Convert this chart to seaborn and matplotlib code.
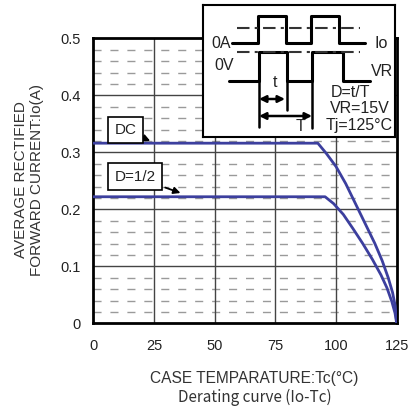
import matplotlib
matplotlib.use('Agg')
import matplotlib.pyplot as plt
import pandas as pd
import seaborn as sns

# derating curves (Tc in degC, Io in A)
dc_tc = [0, 92.5, 96, 100, 104, 108, 112, 116, 119, 121.5, 123.3, 124.4, 125]
dc_io = [0.316, 0.316, 0.298, 0.275, 0.245, 0.210, 0.175, 0.140, 0.110, 0.080, 0.054, 0.030, 0.0]
half_tc = [0, 95.5, 99, 103, 107, 111, 115, 118.5, 121, 123, 124.3, 125]
half_io = [0.222, 0.222, 0.210, 0.191, 0.166, 0.140, 0.112, 0.085, 0.062, 0.038, 0.018, 0.0]

x_ticks = [0, 25, 50, 75, 100, 125]
y_ticks = [0, 0.1, 0.2, 0.3, 0.4, 0.5]
y_minor = [0.02, 0.04, 0.06, 0.08, 0.12, 0.14, 0.16, 0.18, 0.22, 0.24, 0.26, 0.28,
           0.32, 0.34, 0.36, 0.38, 0.42, 0.44, 0.46, 0.48]

# inset waveform sketch (drawn in pixel-like coords of the inset box)
io_x = [232, 258, 258, 286, 286, 311, 311, 339, 339, 365]
io_y = [43, 43, 16, 16, 43, 43, 16, 16, 43, 43]
vr_x = [229, 259, 259, 287, 287, 312, 312, 343, 343, 370]
vr_y = [81, 81, 52, 52, 81, 81, 52, 52, 81, 81]

df = pd.concat([
    pd.DataFrame({'Tc': dc_tc, 'Io': dc_io, 'curve': 'DC'}),
    pd.DataFrame({'Tc': half_tc, 'Io': half_io, 'curve': 'D=1/2'}),
])

sns.set_style('white')
plt.rcParams['font.family'] = ['Liberation Sans', 'DejaVu Sans']

fig = plt.figure(figsize=(4.09, 4.08), dpi=100)
ax = fig.add_axes([93.3 / 409, 1 - 323.3 / 408, 303.4 / 409, 285 / 408])

for y in y_minor:
    ax.axhline(y, color='#9a9a9a', lw=1.0, ls=(0, (5.8, 6.4)), zorder=1)
for y in y_ticks[1:-1]:
    ax.axhline(y, color='#444444', lw=1.0, zorder=1.5)
for x in x_ticks[1:-1]:
    ax.axvline(x, color='#444444', lw=1.0, zorder=1.5)

sns.lineplot(data=df, x='Tc', y='Io', hue='curve', palette=['#3c3f9e', '#3c3f9e'],
             linewidth=2, legend=False, sort=False, estimator=None, ax=ax, zorder=3)

ax.set_xlim(0, 125)
ax.set_ylim(0, 0.5)
ax.set_xticks(x_ticks)
ax.set_yticks(y_ticks)
ax.set_xticklabels([str(v) for v in x_ticks])
ax.set_yticklabels(['0', '0.1', '0.2', '0.3', '0.4', '0.5'])
ax.tick_params(length=0, labelsize=10.5, labelcolor='#222222')
ax.tick_params(axis='x', pad=11)
ax.tick_params(axis='y', pad=9)
for s in ax.spines.values():
    s.set_visible(True)
    s.set_color('black')
    s.set_linewidth(2)
ax.set_xlabel('')
ax.set_ylabel('')

# curve labels
box = dict(boxstyle='square,pad=0.42', fc='white', ec='black', lw=1.2)
arrow = dict(arrowstyle='-|>', color='black', lw=1.3, mutation_scale=10)
ax.annotate('DC', xy=(24.5, 0.318), xytext=(13.2, 0.339), ha='center', va='center',
            fontsize=11, color='#222222', bbox=box, arrowprops=arrow, zorder=4)
ax.annotate('D=1/2', xy=(37, 0.227), xytext=(17.2, 0.257), ha='center', va='center',
            fontsize=11, color='#222222', bbox=box, arrowprops=arrow, zorder=4)

fig.text(29 / 409, 1 - 180 / 408, 'AVERAGE RECTIFIED\nFORWARD CURRENT:Io(A)', rotation=90,
         ha='center', va='center', fontsize=11, color='#333333', linespacing=1.15)
fig.text(254 / 409, 1 - 378 / 408, 'CASE TEMPARATURE:Tc(\u00b0C)', ha='center', va='center',
         fontsize=11.2, color='#333333')
fig.text(255 / 409, 1 - 397 / 408, 'Derating curve (Io-Tc)', ha='center', va='center',
         fontsize=11, color='#333333', family=['Noto Sans CJK JP', 'DejaVu Sans'])

# inset with waveform definition
ins = fig.add_axes([203 / 409, 1 - 137 / 408, 192 / 409, 132 / 408])
ins.set_xlim(203, 395)
ins.set_ylim(137, 5)
ins.set_xticks([])
ins.set_yticks([])
ins.set_facecolor('white')
for s in ins.spines.values():
    s.set_color('black')
    s.set_linewidth(1.5)
ins.plot(io_x, io_y, color='black', lw=2.2)
ins.plot(vr_x, vr_y, color='black', lw=2.2)
ins.plot([237, 360], [28, 28], color='#333333', lw=1.5, ls=(0, (6, 2.5, 1.5, 2.5)))
ins.plot([237, 360], [52.5, 52.5], color='#333333', lw=1.5, ls=(0, (6, 2.5, 1.5, 2.5)))
ins.plot([259, 259], [52, 127], color='black', lw=1.8)
ins.plot([287, 287], [81, 110], color='black', lw=1.8)
ins.plot([312, 312], [81, 128], color='black', lw=1.8)
ins.annotate('', xy=(259, 99), xytext=(285, 99),
             arrowprops=dict(arrowstyle='<|-|>', color='black', lw=1.8, mutation_scale=10, shrinkA=0, shrinkB=0))
ins.annotate('', xy=(259, 116), xytext=(312, 116),
             arrowprops=dict(arrowstyle='<|-|>', color='black', lw=1.8, mutation_scale=10, shrinkA=0, shrinkB=0))
ins.text(275, 83, 't', ha='center', va='center', fontsize=11.5, color='#222222')
ins.text(300, 127, 'T', ha='center', va='center', fontsize=11.5, color='#222222')
ins.text(221.5, 43, '0A', ha='center', va='center', fontsize=11.5, color='#222222')
ins.text(224, 65, '0V', ha='center', va='center', fontsize=11.5, color='#222222')
ins.text(381, 43, 'Io', ha='center', va='center', fontsize=11.5, color='#222222')
ins.text(382, 71, 'VR', ha='center', va='center', fontsize=11.5, color='#222222')
ins.text(350, 93, 'D=t/T', ha='center', va='center', fontsize=11.5, color='#222222')
ins.text(360, 109, 'VR=15V', ha='center', va='center', fontsize=11.5, color='#222222')
ins.text(359, 126, 'Tj=125\u00b0C', ha='center', va='center', fontsize=11.5, color='#222222')

plt.savefig('out.png', dpi=100)
